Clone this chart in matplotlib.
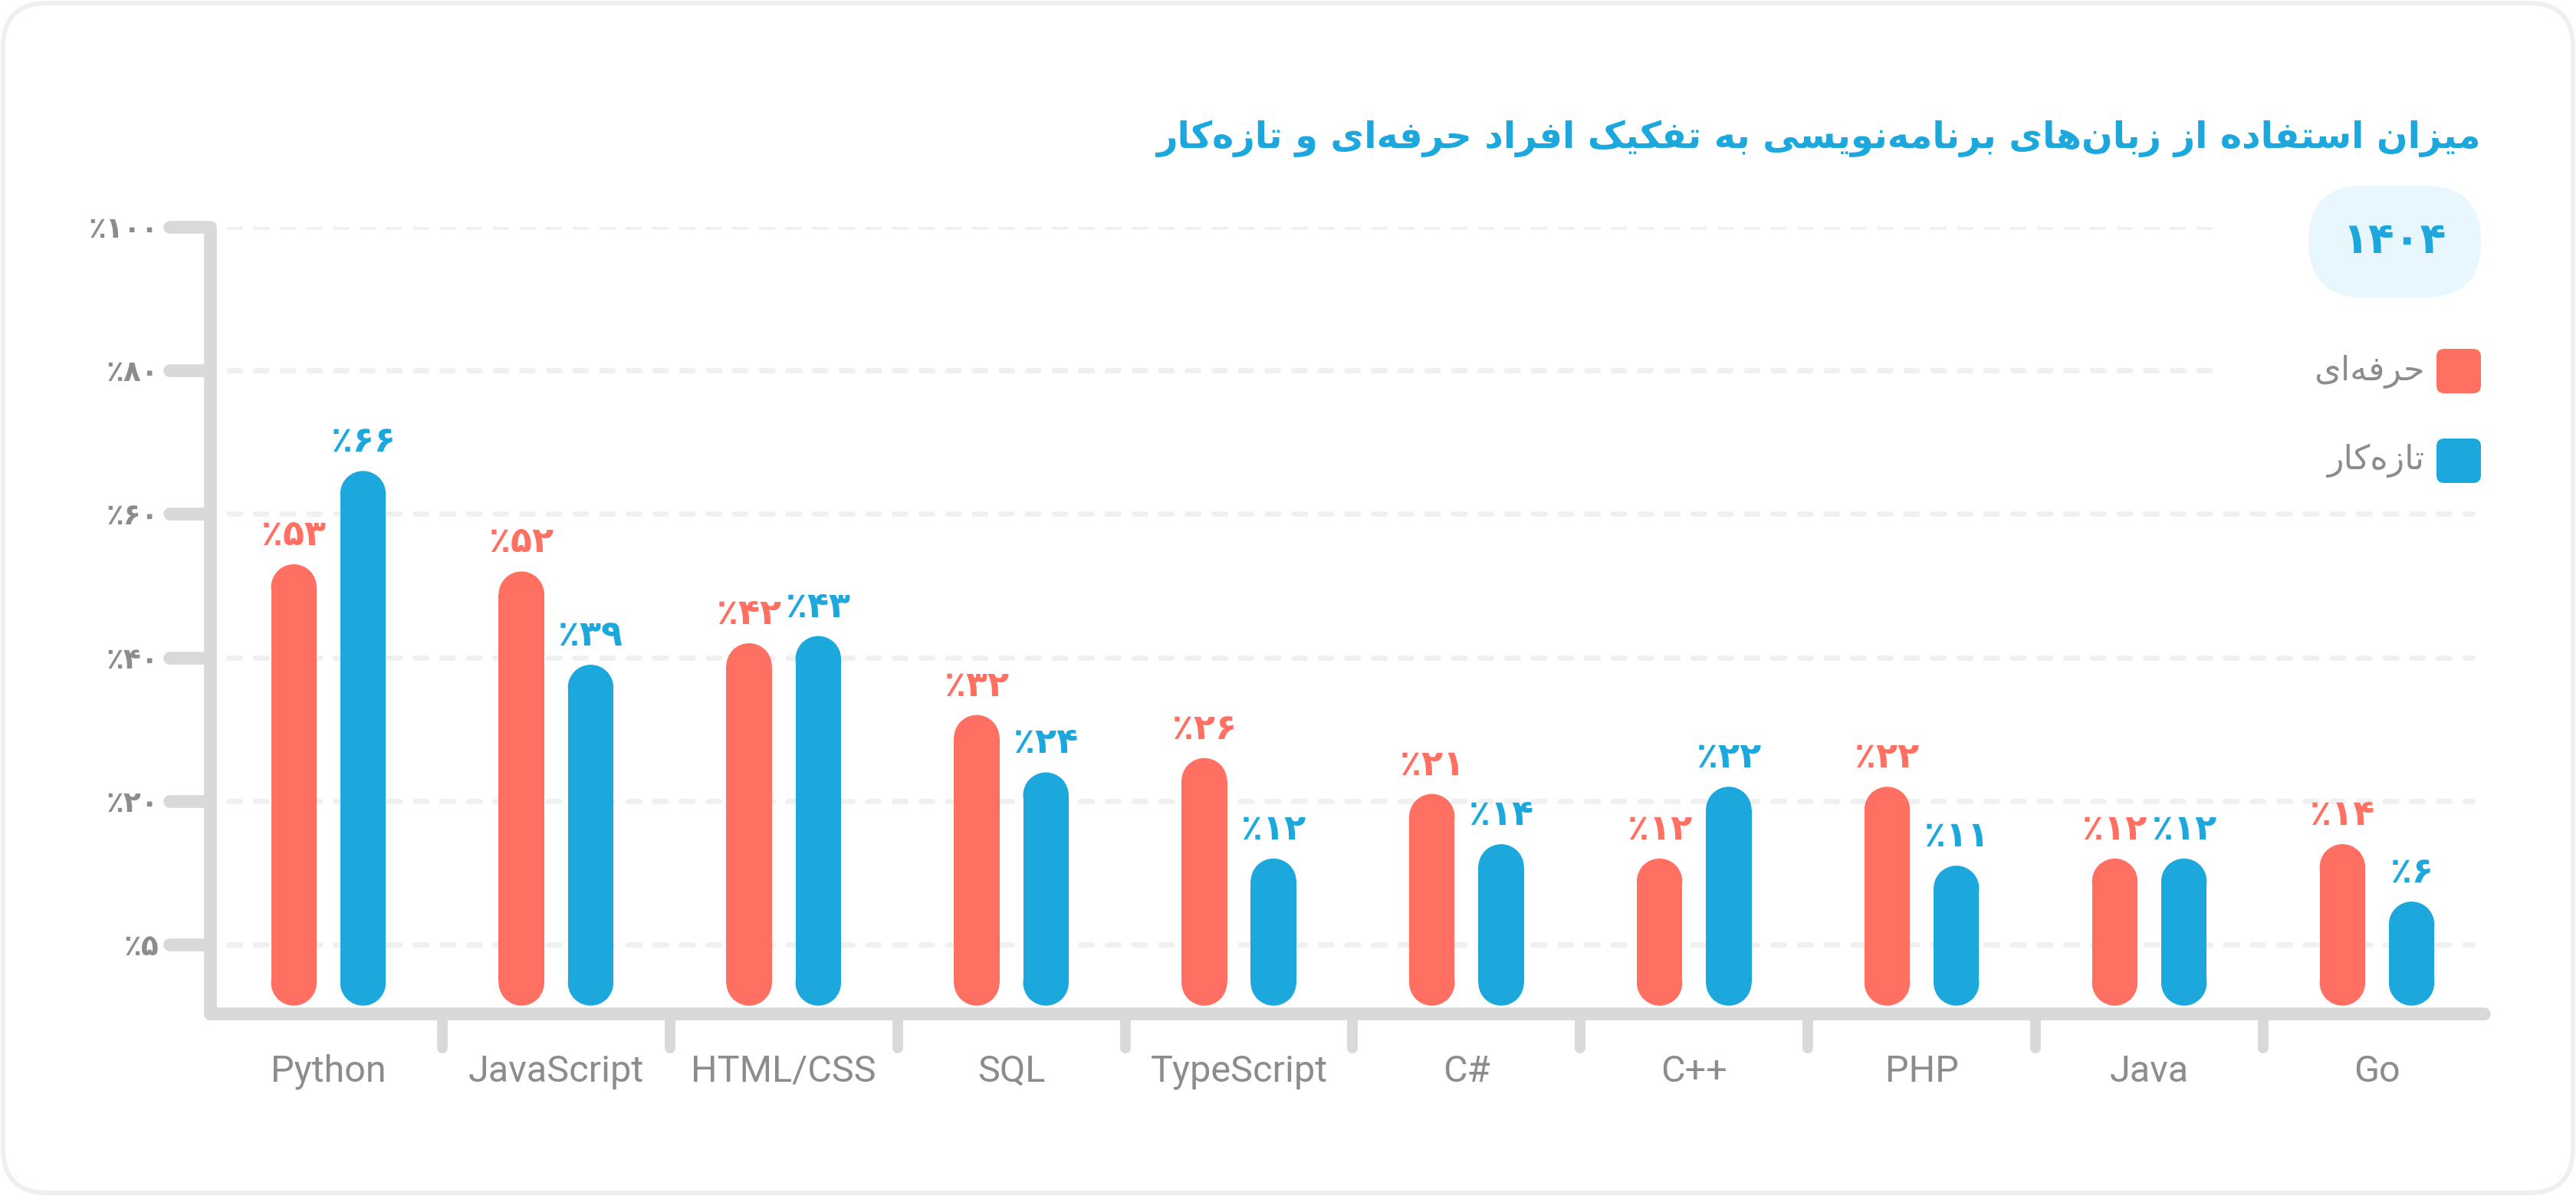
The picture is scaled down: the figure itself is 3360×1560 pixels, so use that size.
import matplotlib
matplotlib.use("Agg")
import matplotlib.pyplot as plt
from matplotlib.patches import FancyBboxPatch, Ellipse
from matplotlib.ft2font import FT2Font
from matplotlib import font_manager as fm

# ---------------- data ----------------
categories = ["Python", "JavaScript", "HTML/CSS", "SQL", "TypeScript", "C#", "C++", "PHP", "Java", "Go"]
pro_values = [53, 52, 42, 32, 26, 21, 12, 22, 12, 14]      # حرفه‌ای
new_values = [66, 39, 43, 24, 12, 14, 22, 11, 12, 6]       # تازه‌کار
y_ticks = [0, 20, 40, 60, 80, 100]
y_tick_labels = ["٪۵", "٪۲۰", "٪۴۰", "٪۶۰", "٪۸۰", "٪۱۰۰"]
series_names = ["حرفه‌ای", "تازه‌کار"]
title_text = "میزان استفاده از زبان‌های برنامه‌نویسی به تفکیک افراد حرفه‌ای و تازه‌کار"
badge_text = "۱۴۰۴"

# ---------------- style ----------------
RED = "#FF7062"
BLUE = "#1CA8DC"
AXIS_GRAY = "#D9D9D9"
TEXT_GRAY = "#8C8C8C"
GRID_GRAY = "#F0F0F0"
FA_FONT = "DejaVu Sans"

# --- glyph coverage check for fallback forms ---
fa_path = fm.findfont(fm.FontProperties(family=FA_FONT, weight="bold"))
cmap = FT2Font(fa_path).get_charmap()
has = lambda ch: ord(ch) in cmap

FORMS = {
    '\u0627': ('\uFE8D', '\uFE8E', None, None),
    '\u0628': ('\uFE8F', '\uFE90', '\uFE91', '\uFE92'),
    '\u062A': ('\uFE95', '\uFE96', '\uFE97', '\uFE98'),
    '\u062D': ('\uFEA1', '\uFEA2', '\uFEA3', '\uFEA4'),
    '\u062F': ('\uFEA9', '\uFEAA', None, None),
    '\u0631': ('\uFEAD', '\uFEAE', None, None),
    '\u0632': ('\uFEAF', '\uFEB0', None, None),
    '\u0633': ('\uFEB1', '\uFEB2', '\uFEB3', '\uFEB4'),
    '\u0641': ('\uFED1', '\uFED2', '\uFED3', '\uFED4'),
    '\u0644': ('\uFEDD', '\uFEDE', '\uFEDF', '\uFEE0'),
    '\u0645': ('\uFEE1', '\uFEE2', '\uFEE3', '\uFEE4'),
    '\u0646': ('\uFEE5', '\uFEE6', '\uFEE7', '\uFEE8'),
    '\u0647': ('\uFEE9', '\uFEEA', '\uFEEB', '\uFEEC'),
    '\u0648': ('\uFEED', '\uFEEE', None, None),
    '\u06A9': ('\uFB8E', '\uFB8F', '\uFB90', '\uFB91'),
    '\u06CC': ('\uFBFC', '\uFBFD', '\uFBFE', '\uFBFF'),
}
if not all(has(c) for c in FORMS['\u06A9']):
    FORMS['\u06A9'] = ('\uFED9', '\uFEDA', '\uFEDB', '\uFEDC')
if not all(has(c) for c in FORMS['\u06CC']):
    FORMS['\u06CC'] = ('\uFEEF', '\uFEF0', '\uFEF3', '\uFEF4')


def shape(s):
    out = []
    n = len(s)
    for i, c in enumerate(s):
        if c == '\u200c':
            continue
        if c not in FORMS:
            out.append(c)
            continue
        prev = s[i - 1] if i > 0 else None
        nxt = s[i + 1] if i < n - 1 else None
        jp = prev in FORMS and FORMS[prev][2] is not None
        jn = FORMS[c][2] is not None and nxt in FORMS
        iso, fin, ini, med = FORMS[c]
        out.append(med if (jp and jn) else fin if jp else ini if jn else iso)
    return "".join(reversed(out))


FA_DIGITS = str.maketrans("0123456789", "۰۱۲۳۴۵۶۷۸۹")


def fa_pct(v):
    return "٪" + str(v).translate(FA_DIGITS)


# ---------------- figure ----------------
W, H = 3360, 1560
DPI = 200
fig = plt.figure(figsize=(W / DPI, H / DPI), dpi=DPI)
fig.patch.set_facecolor("white")

def fx(px):
    return px / W

def fy(py):
    return 1 - py / H

ASPECT = W / H

# card
card = FancyBboxPatch((fx(4), fy(1556)), fx(3352), (1552) / H,
                      boxstyle="round,pad=0,rounding_size=%f" % fx(58),
                      mutation_aspect=ASPECT, transform=fig.transFigure,
                      facecolor="white", edgecolor="#EFEFEF", linewidth=2.2, zorder=0)
fig.add_artist(card)

# axes
ax_l, ax_r, ax_b, ax_t = 274, 3240, 1322, 296
ax = fig.add_axes([fx(ax_l), fy(ax_b), fx(ax_r - ax_l), (ax_b - ax_t) / H])
ax.set_facecolor("none")
ax.set_xlim(-0.52, 9.47)
ax.set_ylim(-9.6, 100)

for s in ["top", "right"]:
    ax.spines[s].set_visible(False)
for s in ["left", "bottom"]:
    ax.spines[s].set_color(AXIS_GRAY)
    ax.spines[s].set_linewidth(6)
    ax.spines[s].set_capstyle("round")
    ax.spines[s].set_zorder(3)

# y ticks
ax.set_yticks(y_ticks)
ax.set_yticklabels(y_tick_labels, fontfamily=FA_FONT, fontweight="bold",
                   fontsize=13.5, color=TEXT_GRAY)
ax.tick_params(axis="y", length=0, pad=24)
ytr = ax.get_yaxis_transform()
tick_len_ax = (124 - 105) * 2.143 / (ax_r - ax_l)
for t in y_ticks:
    ax.plot([-tick_len_ax - 0.004, -0.002], [t, t], transform=ytr, color=AXIS_GRAY,
            lw=6, solid_capstyle="round", clip_on=False, zorder=3)

# gridlines
for t in y_ticks:
    xmax = 0.883 if t >= 80 else 0.995
    ax.axhline(t, xmin=0.008, xmax=xmax, color=GRID_GRAY, lw=2.5,
               linestyle=(0, (2.2, 2.8)), dash_capstyle="round", zorder=1)

# x ticks / labels
x = list(range(len(categories)))
ax.set_xticks(x)
ax.set_xticklabels(categories, fontfamily="Roboto", fontsize=17.5, color=TEXT_GRAY)
ax.tick_params(axis="x", length=0, pad=19)
xtr = ax.get_xaxis_transform()
sep_len = 21 / 479
for k in range(len(categories) - 1):
    ax.plot([k + 0.5, k + 0.5], [-0.01, -sep_len], transform=xtr, color=AXIS_GRAY,
            lw=5, solid_capstyle="round", clip_on=False, zorder=3)

# bars (pill shaped: body + elliptical caps so ends are round on screen)
fig.canvas.draw()
p0 = ax.transData.transform((0, 0))
p1 = ax.transData.transform((1, 1))
bar_aspect = (p1[0] - p0[0]) / (p1[1] - p0[1])  # data-y per data-x in pixel terms

bar_w = 0.2
offset = 0.152
base = -8.5
ry = bar_w / 2 * bar_aspect
for vals, sign, color in [(pro_values, -1, RED), (new_values, 1, BLUE)]:
    xs = [i + sign * offset for i in range(len(vals))]
    heights = [v - base - 2 * ry for v in vals]
    ax.bar(xs, heights, width=bar_w, bottom=base + ry, color=color,
           edgecolor="none", linewidth=0, zorder=2)
    for cx, v in zip(xs, vals):
        for cy in (v - ry, base + ry):
            ax.add_patch(Ellipse((cx, cy), bar_w, 2 * ry, facecolor=color,
                                 edgecolor="none", linewidth=0, zorder=2))
        ax.annotate(fa_pct(v), (cx, v), xytext=(0, 9), textcoords="offset points",
                    ha="center", va="baseline", fontfamily=FA_FONT, fontweight="bold",
                    fontsize=16.5, color=color, zorder=4)

# title
fig.text(fx(3236), fy(193), shape(title_text), ha="right", va="baseline",
         fontfamily=FA_FONT, fontweight="bold", fontsize=17.2, color=BLUE)

# badge
bx0, bx1, by0, by1 = 3011, 3236, 242, 388
badge = FancyBboxPatch((fx(bx0), fy(by1)), fx(bx1 - bx0), (by1 - by0) / H,
                       boxstyle="round,pad=0,rounding_size=%f" % fx((by1 - by0) / 2),
                       mutation_aspect=ASPECT, transform=fig.transFigure,
                       facecolor="#E8F7FD", edgecolor="none", zorder=1)
fig.add_artist(badge)
fig.text(fx((bx0 + bx1) / 2), fy((by0 + by1) / 2), badge_text, ha="center", va="center",
         fontfamily=FA_FONT, fontweight="bold", fontsize=20, color=BLUE, zorder=2)

# legend
for (name, color, yc) in [(series_names[0], RED, 484), (series_names[1], BLUE, 601)]:
    sq = 58
    sqp = FancyBboxPatch((fx(3178), fy(yc + sq / 2)), fx(sq), sq / H,
                         boxstyle="round,pad=0,rounding_size=%f" % fx(10),
                         mutation_aspect=ASPECT, transform=fig.transFigure,
                         facecolor=color, edgecolor="none", zorder=2)
    fig.add_artist(sqp)
    fig.text(fx(3163), fy(yc), shape(name), ha="right", va="center",
             fontfamily=FA_FONT, fontsize=16, color=TEXT_GRAY)

fig.savefig("out.png", dpi=DPI, facecolor="white")
